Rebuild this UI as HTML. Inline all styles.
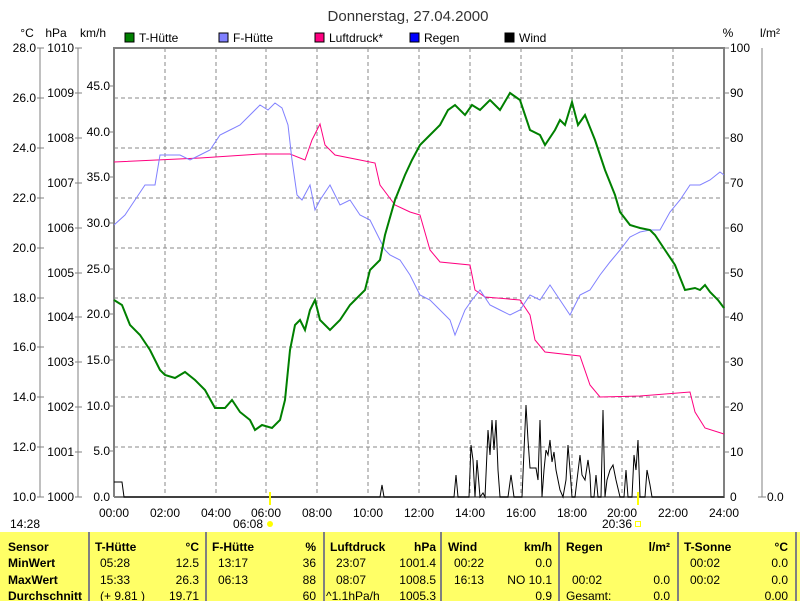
<!DOCTYPE html>
<html><head><meta charset="utf-8"><style>
body{margin:0;background:#fff;}
svg{display:block;font-family:"Liberation Sans",sans-serif;font-size:12px;}
.tb{font-weight:bold;}
</style></head><body>
<svg width="800" height="601" viewBox="0 0 800 601" xmlns="http://www.w3.org/2000/svg">
<rect width="800" height="601" fill="#fff"/>
<text x="408" y="21" text-anchor="middle" font-size="15" fill="#333">Donnerstag, 27.04.2000</text>
<!-- axis headers -->
<text x="27" y="37" text-anchor="middle">°C</text>
<text x="56" y="37" text-anchor="middle">hPa</text>
<text x="93" y="37" text-anchor="middle">km/h</text>
<text x="728" y="37" text-anchor="middle">%</text>
<text x="770" y="37" text-anchor="middle">l/m²</text>
<!-- legend -->
<g stroke="#000" stroke-width="1">
<rect x="125" y="33" width="9" height="9" fill="#008000"/>
<rect x="219" y="33" width="9" height="9" fill="#8080ff"/>
<rect x="315" y="33" width="9" height="9" fill="#ff0080"/>
<rect x="410" y="33" width="9" height="9" fill="#0000ff"/>
<rect x="505" y="33" width="9" height="9" fill="#000"/>
</g>
<text x="139" y="42">T-Hütte</text>
<text x="233" y="42">F-Hütte</text>
<text x="329" y="42">Luftdruck*</text>
<text x="424" y="42">Regen</text>
<text x="519" y="42">Wind</text>
<!-- grid -->
<g stroke="#888" stroke-dasharray="4,3" stroke-width="1">
<line x1="165" y1="48" x2="165" y2="497"/><line x1="216" y1="48" x2="216" y2="497"/><line x1="266" y1="48" x2="266" y2="497"/><line x1="317" y1="48" x2="317" y2="497"/><line x1="368" y1="48" x2="368" y2="497"/><line x1="419" y1="48" x2="419" y2="497"/><line x1="470" y1="48" x2="470" y2="497"/><line x1="521" y1="48" x2="521" y2="497"/><line x1="572" y1="48" x2="572" y2="497"/><line x1="622" y1="48" x2="622" y2="497"/><line x1="673" y1="48" x2="673" y2="497"/>
<line x1="114" y1="98" x2="724" y2="98"/><line x1="114" y1="148" x2="724" y2="148"/><line x1="114" y1="198" x2="724" y2="198"/><line x1="114" y1="248" x2="724" y2="248"/><line x1="114" y1="298" x2="724" y2="298"/><line x1="114" y1="347" x2="724" y2="347"/><line x1="114" y1="397" x2="724" y2="397"/><line x1="114" y1="447" x2="724" y2="447"/>
</g>
<!-- frame -->
<g stroke="#808080" stroke-width="2" fill="none">
<polyline points="114,497 114,48 724,48 724,497 114,497"/>
</g>
<!-- left axes -->
<g stroke="#808080" stroke-width="1">
<line x1="40" y1="48" x2="40" y2="497"/><line x1="78" y1="48" x2="78" y2="497"/>
<line x1="37" y1="48" x2="44" y2="48"/><line x1="37" y1="98" x2="44" y2="98"/><line x1="37" y1="148" x2="44" y2="148"/><line x1="37" y1="198" x2="44" y2="198"/><line x1="37" y1="248" x2="44" y2="248"/><line x1="37" y1="298" x2="44" y2="298"/><line x1="37" y1="347" x2="44" y2="347"/><line x1="37" y1="397" x2="44" y2="397"/><line x1="37" y1="447" x2="44" y2="447"/><line x1="37" y1="497" x2="44" y2="497"/>
<line x1="75" y1="48" x2="82" y2="48"/><line x1="75" y1="93" x2="82" y2="93"/><line x1="75" y1="138" x2="82" y2="138"/><line x1="75" y1="183" x2="82" y2="183"/><line x1="75" y1="228" x2="82" y2="228"/><line x1="75" y1="273" x2="82" y2="273"/><line x1="75" y1="317" x2="82" y2="317"/><line x1="75" y1="362" x2="82" y2="362"/><line x1="75" y1="407" x2="82" y2="407"/><line x1="75" y1="452" x2="82" y2="452"/><line x1="75" y1="497" x2="82" y2="497"/>
<line x1="110" y1="86" x2="114" y2="86"/><line x1="110" y1="132" x2="114" y2="132"/><line x1="110" y1="177" x2="114" y2="177"/><line x1="110" y1="223" x2="114" y2="223"/><line x1="110" y1="269" x2="114" y2="269"/><line x1="110" y1="314" x2="114" y2="314"/><line x1="110" y1="360" x2="114" y2="360"/><line x1="110" y1="406" x2="114" y2="406"/><line x1="110" y1="451" x2="114" y2="451"/>
<line x1="762" y1="48" x2="762" y2="497"/><line x1="758" y1="497" x2="766" y2="497"/>
<line x1="724" y1="48" x2="729" y2="48"/><line x1="724" y1="93" x2="729" y2="93"/><line x1="724" y1="138" x2="729" y2="138"/><line x1="724" y1="183" x2="729" y2="183"/><line x1="724" y1="228" x2="729" y2="228"/><line x1="724" y1="273" x2="729" y2="273"/><line x1="724" y1="317" x2="729" y2="317"/><line x1="724" y1="362" x2="729" y2="362"/><line x1="724" y1="407" x2="729" y2="407"/><line x1="724" y1="452" x2="729" y2="452"/>
</g>
<g text-anchor="end">
<text x="36" y="52">28.0</text><text x="36" y="102">26.0</text><text x="36" y="152">24.0</text><text x="36" y="202">22.0</text><text x="36" y="252">20.0</text><text x="36" y="302">18.0</text><text x="36" y="351">16.0</text><text x="36" y="401">14.0</text><text x="36" y="451">12.0</text><text x="36" y="501">10.0</text>
<text x="74" y="52">1010</text><text x="74" y="97">1009</text><text x="74" y="142">1008</text><text x="74" y="187">1007</text><text x="74" y="232">1006</text><text x="74" y="277">1005</text><text x="74" y="321">1004</text><text x="74" y="366">1003</text><text x="74" y="411">1002</text><text x="74" y="456">1001</text><text x="74" y="501">1000</text>
<text x="110" y="90">45.0</text><text x="110" y="136">40.0</text><text x="110" y="181">35.0</text><text x="110" y="227">30.0</text><text x="110" y="273">25.0</text><text x="110" y="318">20.0</text><text x="110" y="364">15.0</text><text x="110" y="410">10.0</text><text x="110" y="455">5.0</text><text x="110" y="501">0.0</text>
</g>
<g>
<text x="730" y="52">100</text><text x="730" y="97">90</text><text x="730" y="142">80</text><text x="730" y="187">70</text><text x="730" y="232">60</text><text x="730" y="277">50</text><text x="730" y="321">40</text><text x="730" y="366">30</text><text x="730" y="411">20</text><text x="730" y="456">10</text><text x="730" y="501">0</text>
<text x="767" y="501">0.0</text>
</g>
<!-- x labels -->
<g text-anchor="middle">
<text x="114" y="517">00:00</text><text x="165" y="517">02:00</text><text x="216" y="517">04:00</text><text x="266" y="517">06:00</text><text x="317" y="517">08:00</text><text x="368" y="517">10:00</text><text x="419" y="517">12:00</text><text x="470" y="517">14:00</text><text x="521" y="517">16:00</text><text x="572" y="517">18:00</text><text x="622" y="517">20:00</text><text x="673" y="517">22:00</text><text x="724" y="517">24:00</text>
</g>
<text x="10" y="528">14:28</text>
<text x="248" y="528" text-anchor="middle">06:08</text>
<text x="617" y="528" text-anchor="middle">20:36</text>
<circle cx="270" cy="524" r="3" fill="#ffff00"/>
<rect x="635.5" y="521.5" width="5" height="5" fill="none" stroke="#ffff00"/>
<!-- series -->
<polyline fill="none" stroke="#000" stroke-width="1" points="114,482 122,482 124,497 380,497 382,485 384,497 454,497 456,475 458,497 469,497 471,445 473,460 475,497 477,460 480,497 483,493 485,497 488,430 490,455 492,420 494,450 496,420 498,470 500,497 508,497 511,475 514,497 522,497 526,405 528,440 530,468 536,468 538,480 540,420 541,455 542,497 544,470 546,450 548,455 550,440 552,462 554,452 556,470 560,490 563,497 566,480 568,445 570,470 572,497 575,497 577,480 580,455 582,475 585,480 588,460 590,475 591,497 594,497 596,475 598,497 601,497 603,410 605,497 607,480 610,470 613,465 616,480 620,497 624,497 626,470 628,497 632,497 634,455 636,470 638,440 640,497 645,497 647,470 650,485 652,497 724,497"/>
<polyline fill="none" stroke="#ff0080" stroke-width="1" points="114,162 200,158 260,154 290,154 305,160 312,140 320,124 325,145 335,155 360,160 375,163 380,185 395,205 410,212 420,215 430,250 440,262 470,265 475,290 485,297 520,300 530,315 535,340 545,352 580,356 590,385 600,397 640,396 690,392 695,412 705,428 724,434"/>
<polyline fill="none" stroke="#8080ff" stroke-width="1" points="114,225 125,215 135,200 145,185 155,185 160,155 170,155 180,155 190,160 200,155 210,150 220,135 230,130 240,125 250,115 260,105 268,110 275,103 282,108 288,125 292,160 297,195 302,200 310,185 315,210 320,200 330,185 340,205 350,200 360,215 370,220 380,240 385,250 390,255 400,260 410,275 420,295 430,300 440,310 450,320 455,335 465,310 472,300 480,290 490,305 500,310 510,315 520,310 530,295 540,300 550,285 560,300 570,315 580,295 590,290 600,275 610,262 620,250 630,237 640,232 650,230 660,230 670,212 680,200 690,185 700,185 710,180 720,172 724,175"/>
<polyline fill="none" stroke="#008000" stroke-width="2" points="114,300 122,305 130,325 140,335 150,350 160,370 165,375 175,378 185,372 195,380 205,390 215,408 225,408 232,400 240,412 250,420 255,430 262,425 272,428 280,420 285,400 290,350 295,325 300,320 305,330 310,310 315,300 320,320 330,330 340,320 350,305 355,300 365,290 370,270 380,260 385,235 395,200 405,175 412,160 420,145 430,135 440,125 448,110 455,105 465,115 472,105 480,110 490,100 500,110 510,93 520,100 525,115 530,130 540,135 545,145 555,130 560,120 565,125 572,102 578,125 585,115 595,140 600,155 605,170 615,195 620,212 630,225 640,228 650,230 655,235 665,250 675,265 685,290 695,288 700,290 705,285 710,292 718,300 724,308"/>
<line x1="270" y1="492" x2="270" y2="505" stroke="#ffff00" stroke-width="2"/>
<line x1="638" y1="492" x2="638" y2="505" stroke="#ffff00" stroke-width="2"/>
<!-- table -->
<rect x="0" y="532" width="800" height="69" fill="#ffff66"/>
<g stroke="#808080" stroke-width="2">
<line x1="89" y1="532" x2="89" y2="601"/><line x1="206" y1="532" x2="206" y2="601"/><line x1="324" y1="532" x2="324" y2="601"/><line x1="441" y1="532" x2="441" y2="601"/><line x1="559" y1="532" x2="559" y2="601"/><line x1="678" y1="532" x2="678" y2="601"/><line x1="796" y1="532" x2="796" y2="601"/>
</g>
<g class="tb">
<text x="8" y="551">Sensor</text><text x="8" y="567">MinWert</text><text x="8" y="584">MaxWert</text><text x="8" y="600">Durchschnitt</text>
<text x="95" y="551">T-Hütte</text><text x="199" y="551" text-anchor="end">°C</text>
<text x="212" y="551">F-Hütte</text><text x="316" y="551" text-anchor="end">%</text>
<text x="330" y="551">Luftdruck</text><text x="436" y="551" text-anchor="end">hPa</text>
<text x="448" y="551">Wind</text><text x="552" y="551" text-anchor="end">km/h</text>
<text x="566" y="551">Regen</text><text x="670" y="551" text-anchor="end">l/m²</text>
<text x="684" y="551">T-Sonne</text><text x="788" y="551" text-anchor="end">°C</text>
</g>
<g>
<text x="100" y="567">05:28</text><text x="199" y="567" text-anchor="end">12.5</text>
<text x="100" y="584">15:33</text><text x="199" y="584" text-anchor="end">26.3</text>
<text x="100" y="600">(+ 9.81 )</text><text x="199" y="600" text-anchor="end">19.71</text>
<text x="218" y="567">13:17</text><text x="316" y="567" text-anchor="end">36</text>
<text x="218" y="584">06:13</text><text x="316" y="584" text-anchor="end">88</text>
<text x="316" y="600" text-anchor="end">60</text>
<text x="336" y="567">23:07</text><text x="436" y="567" text-anchor="end">1001.4</text>
<text x="336" y="584">08:07</text><text x="436" y="584" text-anchor="end">1008.5</text>
<text x="326" y="600">^1.1hPa/h</text><text x="436" y="600" text-anchor="end">1005.3</text>
<text x="454" y="567">00:22</text><text x="552" y="567" text-anchor="end">0.0</text>
<text x="454" y="584">16:13</text><text x="552" y="584" text-anchor="end">NO 10.1</text>
<text x="552" y="600" text-anchor="end">0.9</text>
<text x="572" y="584">00:02</text><text x="670" y="584" text-anchor="end">0.0</text>
<text x="566" y="600">Gesamt:</text><text x="670" y="600" text-anchor="end">0.0</text>
<text x="690" y="567">00:02</text><text x="788" y="567" text-anchor="end">0.0</text>
<text x="690" y="584">00:02</text><text x="788" y="584" text-anchor="end">0.0</text>
<text x="788" y="600" text-anchor="end">0.00</text>
</g>
</svg>
</body></html>
